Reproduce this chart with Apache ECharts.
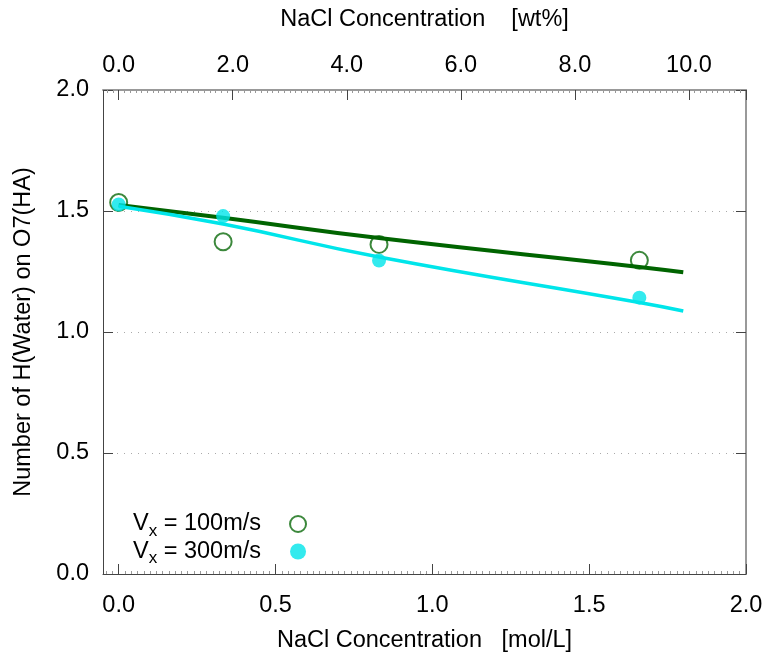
<!DOCTYPE html>
<html>
<head>
<meta charset="utf-8">
<script src="https://cdn.jsdelivr.net/npm/echarts@6/dist/echarts.min.js"></script>
<style>
html,body{margin:0;padding:0;background:#fff}
#chart{width:763px;height:656px}
</style>
</head>
<body>
<div id="chart"></div>
<script>
// NaCl concentration [mol/L]
const conc = [0.0, 0.333, 0.83, 1.66]
// H(Water) count on O7(HA)
const hb100 = [1.535, 1.373, 1.362, 1.296]
const hb300 = [1.527, 1.479, 1.295, 1.142]
// fitted curves, points
const fitX = [0.0, 0.333, 0.83, 1.66, 1.8]
const fit100 = [1.525, 1.472, 1.388, 1.269, 1.247]
const fit300 = [1.52, 1.446, 1.31, 1.122, 1.087]
const legendNames = ['100m/s', '300m/s']

const font = "'Liberation Sans', Arial, sans-serif"
const fs = 23.5
const green = '#0b6a0b'
const cyan = '#00e5ea'

const pairs = (xs, ys) => xs.map((x, i) => [x, ys[i]])
// hide labels that sit at the padded axis ends
const fmt = v => (v < 0 || v > 10.5 ? '' : v.toFixed(1))

const myChart = echarts.init(document.getElementById('chart'))
myChart.setOption({
  animation: false,
  textStyle: {fontFamily: font},
  grid: {left: 103, right: 17, top: 90, bottom: 82, outerBoundsMode: 'none'},
  legend: {
    orient: 'vertical',
    left: 128,
    top: 507,
    align: 'right',
    itemWidth: 16,
    itemHeight: 16,
    itemGap: 0,
    data: legendNames,
    formatter: n => '{a|V}{s|x}{a| = ' + n + '}{g|}',
    textStyle: {
      rich: {
        a: {fontSize: fs, color: '#000', fontFamily: font},
        s: {fontSize: 17, color: '#000', fontFamily: font, padding: [14, 0, 0, 0]},
        g: {width: 24}
      }
    }
  },
  xAxis: [
    {
      type: 'value', position: 'bottom', min: -0.05, max: 2.0,
      name: 'NaCl Concentration   [mol/L]', nameLocation: 'middle', nameGap: 55,
      nameTextStyle: {fontSize: fs, color: '#000'},
      axisLine: {onZero: false, lineStyle: {color: '#444', width: 1}},
      axisTick: {inside: true, length: 10, lineStyle: {color: '#444'}},
      minorTick: {show: true, splitNumber: 25, length: 3, lineStyle: {color: '#999'}},
      axisLabel: {fontSize: fs, color: '#000', margin: 20, formatter: fmt},
      splitLine: {show: false}
    },
    {
      type: 'value', position: 'top', min: -0.275, max: 11.0,
      name: 'NaCl Concentration    [wt%]', nameLocation: 'middle', nameGap: 58,
      nameTextStyle: {fontSize: fs, color: '#000'},
      axisLine: {onZero: false, lineStyle: {color: '#999', width: 2}},
      axisTick: {inside: true, length: 10, lineStyle: {color: '#444'}},
      minorTick: {show: true, splitNumber: 20, length: 3, lineStyle: {color: '#999'}},
      axisLabel: {fontSize: fs, color: '#000', margin: 12, formatter: fmt},
      splitLine: {show: false}
    }
  ],
  yAxis: [
    {
      type: 'value', position: 'left', min: 0, max: 2.0, interval: 0.5,
      name: 'Number of H(Water) on O7(HA)', nameLocation: 'middle', nameGap: 67,
      nameTextStyle: {fontSize: fs, color: '#000'},
      axisLine: {show: true, onZero: false, lineStyle: {color: '#444', width: 1}},
      axisTick: {show: true, inside: true, length: 10, lineStyle: {color: '#444'}},
      axisLabel: {fontSize: fs, color: '#000', margin: 14, formatter: fmt},
      splitLine: {show: true, lineStyle: {color: '#aaa', type: [1, 6], width: 1}}
    },
    {
      type: 'value', position: 'right', min: 0, max: 2.0, interval: 0.5,
      axisLine: {show: true, onZero: false, lineStyle: {color: '#999', width: 2}},
      axisTick: {show: true, inside: true, length: 10, lineStyle: {color: '#444'}},
      axisLabel: {show: false},
      splitLine: {show: false}
    }
  ],
  series: [
    {
      name: '100m/s', type: 'scatter', z: 2,
      symbol: 'emptyCircle', symbolSize: 17,
      itemStyle: {color: green, borderWidth: 2},
      data: pairs(conc, hb100)
    },
    {
      type: 'line', z: 3, smooth: true, showSymbol: false, silent: true,
      lineStyle: {color: '#006400', width: 4},
      data: pairs(fitX, fit100)
    },
    {
      type: 'line', z: 3, smooth: true, showSymbol: false, silent: true,
      lineStyle: {color: cyan, width: 3.5},
      data: pairs(fitX, fit300)
    },
    {
      name: '300m/s', type: 'scatter', z: 4,
      symbol: 'circle', symbolSize: 14,
      itemStyle: {color: cyan},
      data: pairs(conc, hb300)
    }
  ]
})
</script>
</body>
</html>
